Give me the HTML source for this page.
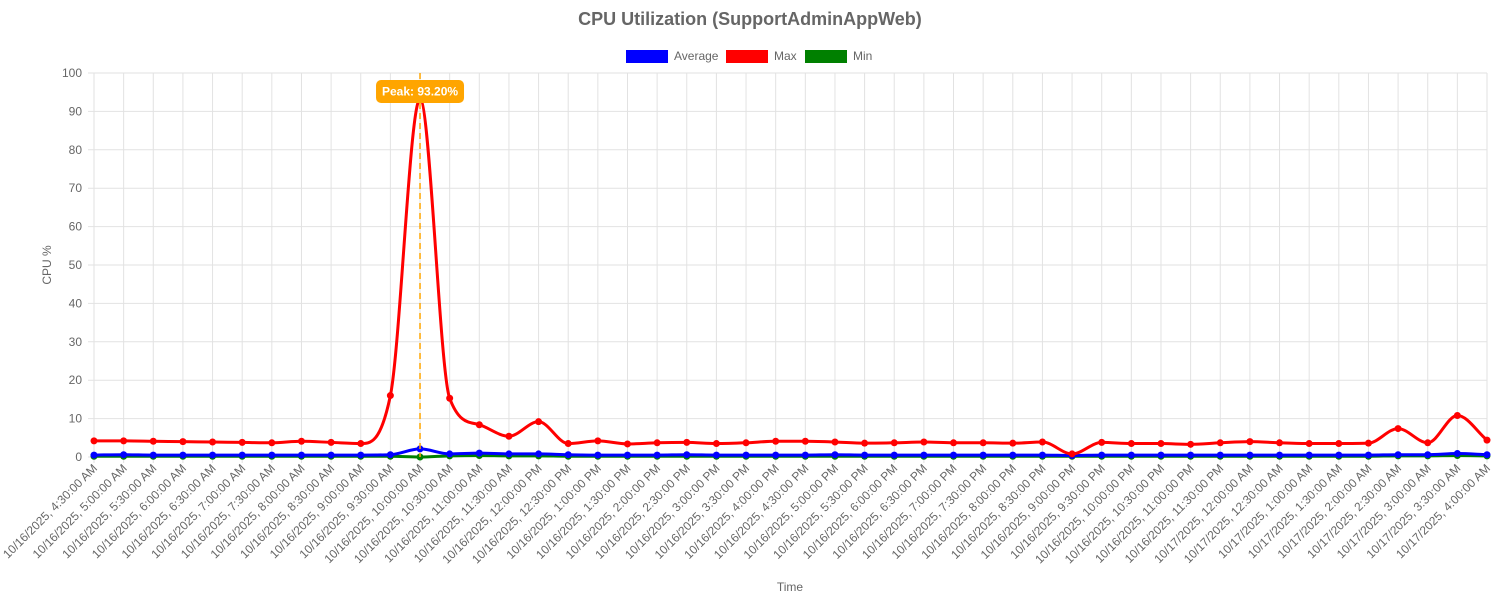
<!DOCTYPE html>
<html><head><meta charset="utf-8"><style>
body{margin:0;background:#fff;width:1500px;height:600px;overflow:hidden}
svg{font-family:"Liberation Sans",Arial,sans-serif}
</style></head><body>
<svg id="chart" width="1500" height="600">
<text x="750" y="25" text-anchor="middle" font-size="18" font-weight="bold" fill="#666">CPU Utilization (SupportAdminAppWeb)</text>
<g>
<g><rect x="626" y="50" width="42" height="13" fill="#0000ff"/><text x="674" y="60" font-size="12" fill="#666">Average</text></g>
<g><rect x="726" y="50" width="42" height="13" fill="#ff0000"/><text x="774" y="60" font-size="12" fill="#666">Max</text></g>
<g><rect x="805" y="50" width="42" height="13" fill="#008000"/><text x="853" y="60" font-size="12" fill="#666">Min</text></g>
</g>
<text transform="translate(51,265) rotate(-90)" text-anchor="middle" font-size="12" fill="#666">CPU %</text>
<text x="790" y="591" text-anchor="middle" font-size="12" fill="#666">Time</text>
<g id="grid"></g><g id="series"></g><g id="ann"></g>
</svg>
<script>
const times=["4:30:00 AM","5:00:00 AM","5:30:00 AM","6:00:00 AM","6:30:00 AM","7:00:00 AM","7:30:00 AM","8:00:00 AM","8:30:00 AM","9:00:00 AM","9:30:00 AM","10:00:00 AM","10:30:00 AM","11:00:00 AM","11:30:00 AM","12:00:00 PM","12:30:00 PM","1:00:00 PM","1:30:00 PM","2:00:00 PM","2:30:00 PM","3:00:00 PM","3:30:00 PM","4:00:00 PM","4:30:00 PM","5:00:00 PM","5:30:00 PM","6:00:00 PM","6:30:00 PM","7:00:00 PM","7:30:00 PM","8:00:00 PM","8:30:00 PM","9:00:00 PM","9:30:00 PM","10:00:00 PM","10:30:00 PM","11:00:00 PM","11:30:00 PM","12:00:00 AM","12:30:00 AM","1:00:00 AM","1:30:00 AM","2:00:00 AM","2:30:00 AM","3:00:00 AM","3:30:00 AM","4:00:00 AM"];
const categories=times.map((t,i)=>(i<39?"10/16/2025, ":"10/17/2025, ")+t);
const maxVals=[4.2,4.2,4.1,4.0,3.9,3.8,3.7,4.1,3.8,3.5,16,93.2,15.3,8.4,5.4,9.2,3.5,4.2,3.4,3.7,3.8,3.5,3.7,4.1,4.1,3.9,3.6,3.7,3.9,3.7,3.7,3.6,3.9,0.8,3.8,3.5,3.5,3.3,3.7,4.0,3.7,3.5,3.5,3.6,7.4,3.7,10.8,4.4];
const avgVals=[0.5,0.6,0.5,0.5,0.5,0.5,0.5,0.5,0.5,0.5,0.6,2.1,0.8,1.0,0.8,0.8,0.6,0.5,0.5,0.5,0.6,0.5,0.5,0.5,0.5,0.6,0.5,0.5,0.5,0.5,0.5,0.5,0.5,0.4,0.5,0.5,0.5,0.5,0.5,0.5,0.5,0.5,0.5,0.5,0.6,0.6,0.9,0.6];
const minVals=[0.2,0.2,0.2,0.2,0.2,0.2,0.2,0.2,0.2,0.2,0.2,0.0,0.3,0.4,0.3,0.3,0.2,0.2,0.2,0.2,0.2,0.2,0.2,0.2,0.2,0.2,0.2,0.2,0.2,0.2,0.2,0.2,0.2,0.2,0.2,0.2,0.2,0.2,0.2,0.2,0.2,0.2,0.2,0.2,0.3,0.3,0.4,0.3];
const yTicks=[0,10,20,30,40,50,60,70,80,90,100];
const peakLabel="Peak: 93.20%";
const L=94,R=1487,T=73,B=457,NS="http://www.w3.org/2000/svg";
const x=i=>L+i*(R-L)/(categories.length-1);
const y=v=>B-v/100*(B-T);
function mk(tag,attrs,parent){const e=document.createElementNS(NS,tag);for(const k in attrs)e.setAttribute(k,attrs[k]);parent.appendChild(e);return e;}
const grid=document.getElementById('grid');
yTicks.forEach(t=>{
 const l=mk('line',{x1:L-6,x2:R,y1:y(t),y2:y(t),stroke:'#e2e2e2'},grid);
 
 
 const tx=mk('text',{x:L-12,y:y(t)+4,'text-anchor':'end','font-size':12,fill:'#666'},grid);tx.textContent=t;
 
 
});
categories.forEach((c,i)=>{
 const l=mk('line',{x1:x(i),x2:x(i),y1:T,y2:B+6,stroke:'#e2e2e2'},grid);
 
 
 const tx=mk('text',{transform:`translate(${x(i)+4},${B+12}) rotate(-45)`,'text-anchor':'end','font-size':12,fill:'#666'},grid);tx.textContent=c;
 
 
});
function pathFor(vals){
 const p=vals.map((v,i)=>[x(i),y(v)]);const n=p.length;
 const d=[],m=new Array(n).fill(0);
 for(let i=0;i<n-1;i++)d.push((p[i+1][1]-p[i][1])/(p[i+1][0]-p[i][0]));
 m[0]=d[0];m[n-1]=d[n-2];
 for(let i=1;i<n-1;i++)m[i]=(d[i-1]*d[i]<=0)?0:(d[i-1]+d[i])/2;
 for(let i=0;i<n-1;i++){
  if(d[i]===0){m[i]=0;m[i+1]=0;continue;}
  const a=m[i]/d[i],b=m[i+1]/d[i],s=a*a+b*b;
  if(s>9){const t=3/Math.sqrt(s);m[i]=t*a*d[i];m[i+1]=t*b*d[i];}
 }
 let s=`M${p[0][0]},${p[0][1]}`;
 for(let i=0;i<n-1;i++){
  const h=(p[i+1][0]-p[i][0])/3;
  s+=`C${p[i][0]+h},${p[i][1]+m[i]*h} ${p[i+1][0]-h},${p[i+1][1]-m[i+1]*h} ${p[i+1][0]},${p[i+1][1]}`;
 }return s;}
const ser=document.getElementById('series');
[[minVals,'#008000','min'],[avgVals,'#0000ff','average'],[maxVals,'#ff0000','max']].forEach(([vals,col,n])=>{
 const g=mk('g',{},ser);
 
 
 const pth=mk('path',{d:pathFor(vals),fill:'none',stroke:col,'stroke-width':3},g);
 
 
 vals.forEach((v,i)=>{const c=mk('circle',{cx:x(i),cy:y(v),r:3.5,fill:col},g);
  
  });
});
const ann=document.getElementById('ann');
const pk=maxVals.indexOf(Math.max(...maxVals));
const dl=mk('line',{x1:x(pk),x2:x(pk),y1:T,y2:B,stroke:'#ffa500','stroke-width':1.5,'stroke-dasharray':'6,4'},ann);


const bx=mk('rect',{x:x(pk)-44,y:80,width:88,height:23,rx:5,fill:'#ffa500'},ann);


const pt=mk('text',{x:x(pk),y:95.5,'text-anchor':'middle','font-size':12,'font-weight':'bold',fill:'#fff'},ann);pt.textContent=peakLabel;


</script>
</body></html>
